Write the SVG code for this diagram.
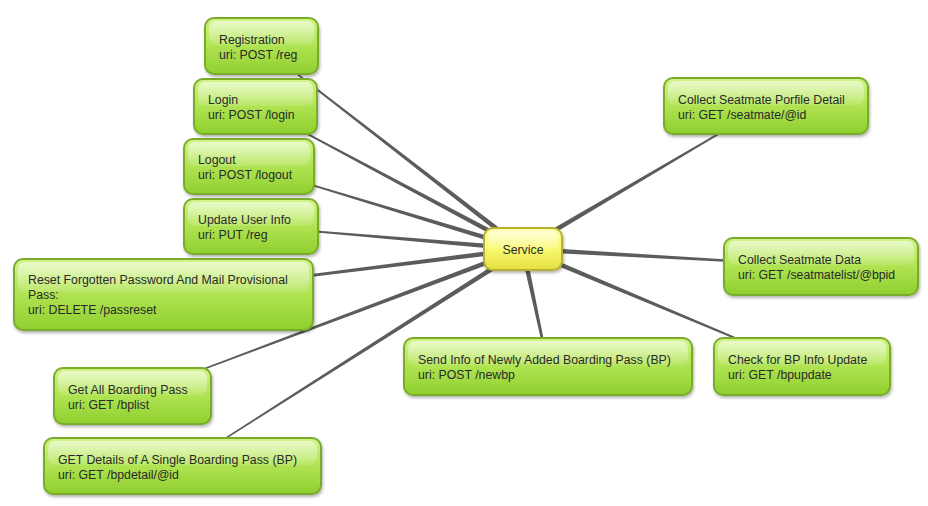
<svg xmlns="http://www.w3.org/2000/svg" width="928" height="506" viewBox="0 0 928 506">
<defs>
<linearGradient id="g" x1="0" y1="0" x2="0" y2="1">
<stop offset="0" stop-color="#d2f48a"/>
<stop offset="0.5" stop-color="#afe352"/>
<stop offset="1" stop-color="#8fcf2e"/>
</linearGradient>
<linearGradient id="y" x1="0" y1="0" x2="0" y2="1">
<stop offset="0" stop-color="#ffffb0"/>
<stop offset="0.5" stop-color="#f8f870"/>
<stop offset="1" stop-color="#e6e040"/>
</linearGradient>
<linearGradient id="h" x1="0" y1="0" x2="0" y2="1">
<stop offset="0" stop-color="#ffffff" stop-opacity="0.55"/>
<stop offset="1" stop-color="#ffffff" stop-opacity="0.1"/>
</linearGradient>
<filter id="s" x="-10%" y="-20%" width="120%" height="150%">
<feDropShadow dx="1" dy="2" stdDeviation="1.5" flood-color="#000" flood-opacity="0.3"/>
</filter>
</defs>
<style>
.n{fill:url(#g);stroke:#7aac2c;stroke-width:2;filter:url(#s)}
.c{fill:url(#y);stroke:#b8b030;stroke-width:2;filter:url(#s)}
.hl{fill:url(#h)}
text{font-family:"Liberation Sans",Arial,sans-serif;font-size:12.3px;fill:#2a2a2a}
.e polygon{fill:#5c5c5c}
</style>
<rect width="928" height="506" fill="#fff"/>
<g class="e" id="connectors">
<polygon points="524.53,247.02 261.31,45.60 260.69,46.40 521.47,250.98"/>
<polygon points="524.18,246.79 255.24,105.56 254.76,106.44 521.82,251.21"/>
<polygon points="523.73,246.61 249.15,165.52 248.85,166.48 522.27,251.39"/>
<polygon points="523.21,246.51 251.04,225.50 250.96,226.50 522.79,251.49"/>
<polygon points="522.69,246.52 162.94,293.50 163.06,294.50 523.31,251.48"/>
<polygon points="522.12,246.66 131.82,395.53 132.18,396.47 523.88,251.34"/>
<polygon points="521.66,246.89 181.73,465.58 182.27,466.42 524.34,251.11"/>
<polygon points="524.27,251.15 766.25,106.43 765.75,105.57 521.73,246.85"/>
<polygon points="522.86,251.50 820.97,266.50 821.03,265.50 523.14,246.50"/>
<polygon points="520.55,249.52 547.02,366.21 548.98,365.79 525.45,248.48"/>
<polygon points="522.03,251.31 801.81,366.46 802.19,365.54 523.97,246.69"/>
</g>
<g id="registration"><rect class="n" x="205" y="18" width="113" height="56" rx="9"/><rect class="hl" x="209" y="21" width="105" height="24" rx="7"/><text x="219" y="44">Registration</text><text x="219" y="59">uri: POST /reg</text></g>
<g id="login"><rect class="n" x="194" y="79" width="123" height="55" rx="9"/><rect class="hl" x="198" y="82" width="115" height="24" rx="7"/><text x="208" y="104">Login</text><text x="208" y="119">uri: POST /login</text></g>
<g id="logout"><rect class="n" x="184" y="139" width="130" height="55" rx="9"/><rect class="hl" x="188" y="142" width="122" height="24" rx="7"/><text x="198" y="164">Logout</text><text x="198" y="179">uri: POST /logout</text></g>
<g id="update"><rect class="n" x="184" y="199" width="134" height="55" rx="9"/><rect class="hl" x="188" y="202" width="126" height="24" rx="7"/><text x="198" y="224">Update User Info</text><text x="198" y="239">uri: PUT /reg</text></g>
<g id="reset"><rect class="n" x="14" y="259" width="299" height="71" rx="9"/><rect class="hl" x="18" y="262" width="291" height="30" rx="7"/><text x="28" y="284">Reset Forgotten Password And Mail Provisional</text><text x="28" y="299">Pass:</text><text x="28" y="314">uri: DELETE /passreset</text></g>
<g id="getall"><rect class="n" x="54" y="368" width="157" height="56" rx="9"/><rect class="hl" x="58" y="371" width="149" height="24" rx="7"/><text x="68" y="394">Get All Boarding Pass</text><text x="68" y="409">uri: GET /bplist</text></g>
<g id="getdetails"><rect class="n" x="44" y="438" width="277" height="56" rx="9"/><rect class="hl" x="48" y="441" width="269" height="24" rx="7"/><text x="58" y="464">GET Details of A Single Boarding Pass (BP)</text><text x="58" y="479">uri: GET /bpdetail/@id</text></g>
<g id="profile"><rect class="n" x="664" y="78" width="204" height="56" rx="9"/><rect class="hl" x="668" y="81" width="196" height="24" rx="7"/><text x="678" y="104">Collect Seatmate Porfile Detail</text><text x="678" y="119">uri: GET /seatmate/@id</text></g>
<g id="seatmatedata"><rect class="n" x="724" y="238" width="194" height="57" rx="9"/><rect class="hl" x="728" y="241" width="186" height="24" rx="7"/><text x="738" y="264">Collect Seatmate Data</text><text x="738" y="279">uri: GET /seatmatelist/@bpid</text></g>
<g id="newbp"><rect class="n" x="404" y="338" width="288" height="57" rx="9"/><rect class="hl" x="408" y="341" width="280" height="24" rx="7"/><text x="418" y="364">Send Info of Newly Added Boarding Pass (BP)</text><text x="418" y="379">uri: POST /newbp</text></g>
<g id="bpupdate"><rect class="n" x="714" y="338" width="176" height="57" rx="9"/><rect class="hl" x="718" y="341" width="168" height="24" rx="7"/><text x="728" y="364">Check for BP Info Update</text><text x="728" y="379">uri: GET /bpupdate</text></g>
<g id="service"><rect class="c" x="484" y="228" width="78" height="42" rx="9"/><rect class="hl" x="488" y="231" width="70" height="18" rx="7"/><text x="523" y="254" text-anchor="middle">Service</text></g>
</svg>
